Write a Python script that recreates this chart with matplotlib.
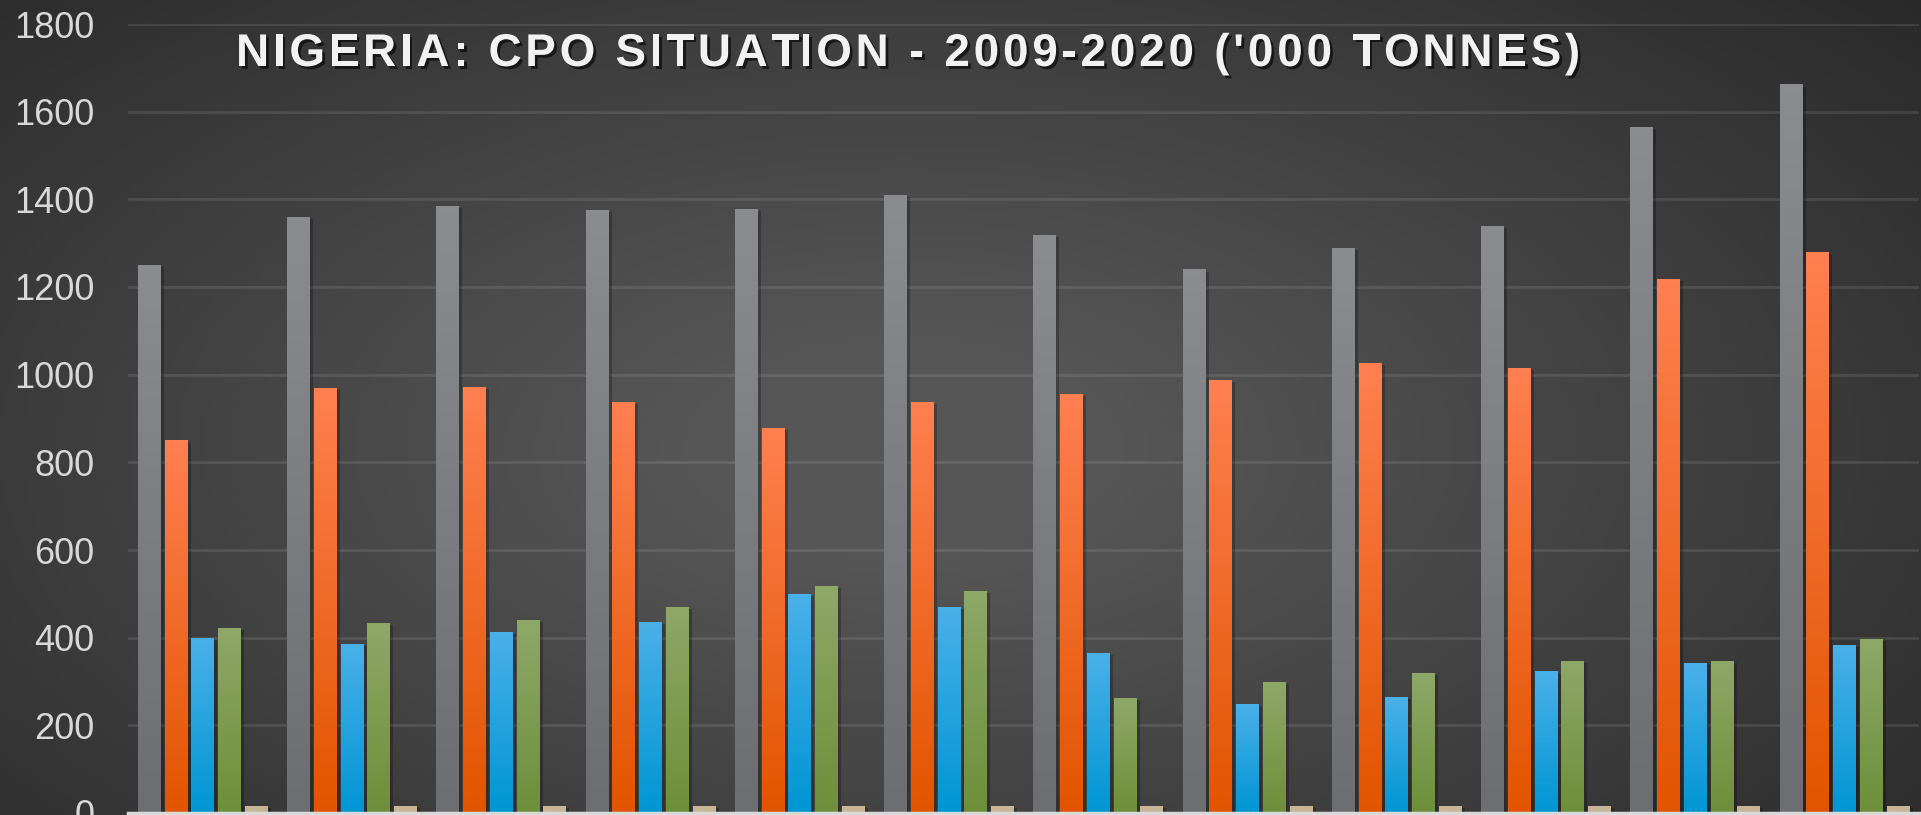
#!/usr/bin/env python3
import numpy as np
import matplotlib
matplotlib.use("Agg")
import matplotlib.pyplot as plt
import matplotlib.patheffects as pe
from matplotlib.colors import LinearSegmentedColormap

years = ["2009", "2010", "2011", "2012", "2013", "2014",
         "2015", "2016", "2017", "2018", "2019", "2020"]

consumption = [1250, 1360, 1385, 1375, 1378, 1410, 1318, 1240, 1290, 1340, 1565, 1662]
production = [850, 970, 971, 938, 879, 937, 955, 988, 1027, 1016, 1218, 1279]
imports = [400, 386, 413, 435, 499, 471, 365, 249, 265, 323, 342, 384]
stocks = [423, 434, 440, 470, 518, 507, 262, 298, 320, 347, 347, 398]
exports = [16, 16, 16, 16, 16, 16, 16, 16, 16, 16, 16, 16]

title = "NIGERIA: CPO SITUATION - 2009-2020 ('000 TONNES)"

series = [consumption, production, imports, stocks, exports]
# top colour, bottom colour for each series
colours = [("#8b8c90", "#6d6e72"),
           ("#ff7f50", "#e25500"),
           ("#4ab0e8", "#0096d4"),
           ("#8ea868", "#6e8f3a"),
           ("#c9b597", "#c9b597")]


def spaced_title(fig, text, x_left, y, spacing_px, **kw):
    # matplotlib has no letter-spacing, so place the letters one by one
    renderer = fig.canvas.get_renderer()
    W = fig.bbox.width
    probe = fig.text(0, 0, "", **kw)
    for i, ch in enumerate(text):
        probe.set_text(text[:i] if i else "")
        adv = probe.get_window_extent(renderer).width if i else 0
        fig.text(x_left + (adv + i * spacing_px) / W, y, ch, ha='left', va='baseline', **kw)
    probe.remove()


def main() -> None:
    plt.rcParams['font.family'] = ['Liberation Sans', 'DejaVu Sans']

    fig = plt.figure(figsize=(19.21, 8.15), dpi=100)

    # dark radial background
    bg = fig.add_axes([0, 0, 1, 1], zorder=-10)
    gx, gy = np.meshgrid(np.linspace(0, 1, 400), np.linspace(0, 1, 200))
    dist = np.sqrt(((gx - 0.47) / 0.75) ** 2 + ((gy - 0.45) / 0.9) ** 2)
    shade = np.clip(1 - dist, 0, 1)
    bg_cmap = LinearSegmentedColormap.from_list("bg", ["#262626", "#565656"])
    bg.imshow(shade, cmap=bg_cmap, aspect='auto', extent=[0, 1, 0, 1],
              origin='lower', vmin=0, vmax=0.85)
    bg.set_axis_off()

    ax = fig.add_axes([128 / 1921, 2 / 815, 1791 / 1921, 789 / 815])
    ax.set_facecolor('none')

    x = np.arange(len(years))
    pitch = 0.179
    width = 0.151
    grad = np.linspace(0, 1, 64).reshape(-1, 1)

    for i, (vals, (top, bottom)) in enumerate(zip(series, colours)):
        bars = ax.bar(x + (i - 2) * pitch, vals, width, color=bottom, zorder=3,
                      path_effects=[pe.SimplePatchShadow(offset=(2.5, -1.5), shadow_rgbFace='black', alpha=0.25),
                                    pe.Normal()])
        cmap = LinearSegmentedColormap.from_list("c%d" % i, [bottom, top])
        for b in bars:
            x0 = b.get_x()
            im = ax.imshow(grad, cmap=cmap, aspect='auto', origin='lower',
                           extent=[x0, x0 + b.get_width(), 0, b.get_height()],
                           zorder=3.5, interpolation='bilinear')
            im.set_clip_path(b)

    ax.set_xlim(-0.5, len(years) - 0.5)
    ax.set_ylim(0, 1800)
    ax.set_yticks(range(0, 1801, 200))
    ax.set_xticks(x)
    ax.set_xticklabels(years)
    ax.tick_params(axis='x', length=0, labelbottom=False)
    ax.tick_params(axis='y', length=0, pad=24, labelsize=26, labelcolor='#d9d9d9')

    ax.grid(True, axis='y', color='white', alpha=0.1, linewidth=2)
    ax.set_axisbelow(True)
    for side in ['top', 'right', 'left']:
        ax.spines[side].set_visible(False)
    ax.spines['bottom'].set_color('#d9d9d9')
    ax.spines['bottom'].set_linewidth(2.5)
    ax.spines['bottom'].set_zorder(5)

    spaced_title(fig, title, 236 / 1921, 1 - 66 / 815, 3.7,
                 fontsize=33, fontweight='bold', color='#f2f2f2',
                 path_effects=[pe.withSimplePatchShadow(offset=(2, -2), shadow_rgbFace='black', alpha=0.6)])

    fig.savefig("out.png", dpi=100)


if __name__ == '__main__':
    main()
